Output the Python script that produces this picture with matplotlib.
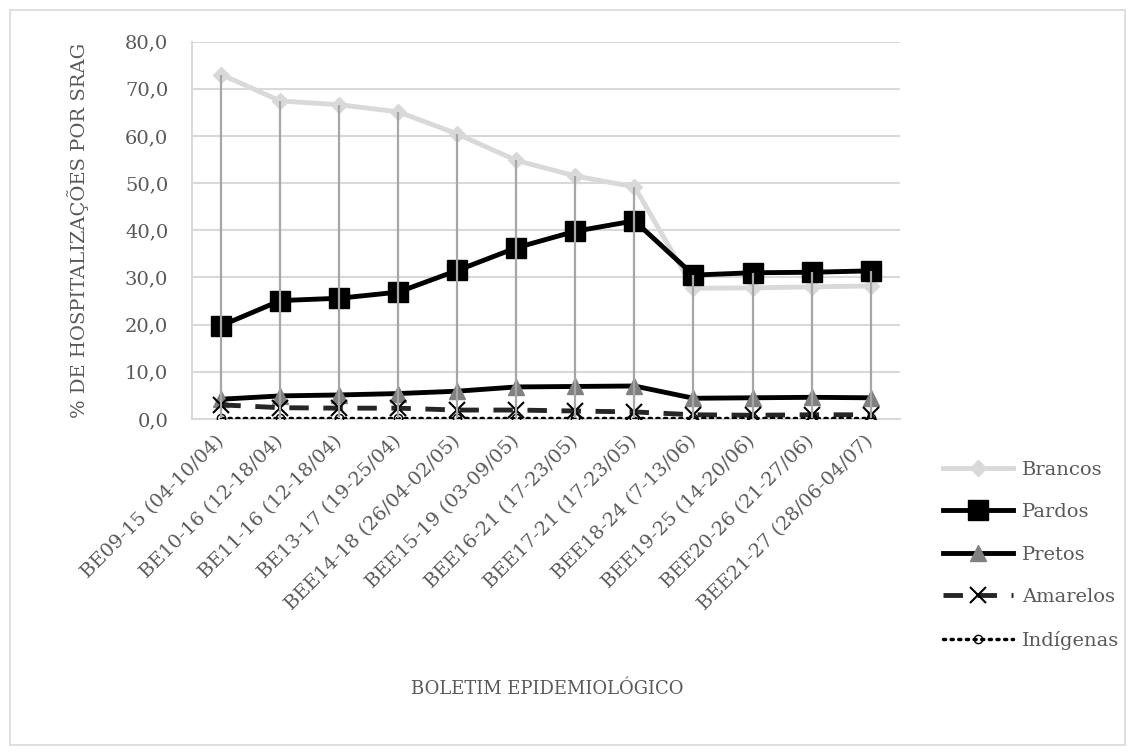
import matplotlib.pyplot as plt
import numpy as np
from matplotlib.patches import Rectangle

categorias = ["BE09-15 (04-10/04)", "BE10-16 (12-18/04)", "BE11-16 (12-18/04)",
              "BE13-17 (19-25/04)", "BEE14-18 (26/04-02/05)", "BEE15-19 (03-09/05)",
              "BEE16-21 (17-23/05)", "BEE17-21 (17-23/05)", "BEE18-24 (7-13/06)",
              "BEE19-25 (14-20/06)", "BEE20-26 (21-27/06)", "BEE21-27 (28/06-04/07)"]

brancos = [73.0, 67.4, 66.6, 65.1, 60.4, 54.8, 51.5, 49.2, 27.7, 27.8, 28.0, 28.2]
pardos = [19.8, 25.1, 25.6, 26.9, 31.5, 36.3, 39.8, 42.0, 30.5, 31.0, 31.1, 31.4]
pretos = [4.2, 4.9, 5.1, 5.4, 5.9, 6.8, 6.9, 7.0, 4.4, 4.5, 4.6, 4.5]
amarelos = [3.0, 2.4, 2.3, 2.3, 1.9, 1.9, 1.7, 1.5, 0.9, 0.8, 0.9, 0.9]
indigenas = [0.3, 0.3, 0.3, 0.3, 0.3, 0.3, 0.3, 0.3, 0.3, 0.3, 0.3, 0.3]

texto = "#595959"
plt.rcParams['font.family'] = ['DejaVu Serif']

fig = plt.figure(figsize=(11.35, 7.55), dpi=100)
fig.patches.append(Rectangle((0.009, 0.013), 0.982, 0.974, transform=fig.transFigure,
                             fill=False, edgecolor="#D9D9D9", linewidth=1.2))
ax = fig.add_axes([0.169, 0.445, 0.624, 0.5])

x = np.arange(len(categorias))
series = np.array([brancos, pardos, pretos, amarelos, indigenas])

# linhas de máximo/mínimo
ax.vlines(x, series.min(axis=0), series.max(axis=0), color="#A6A6A6", lw=1.6, zorder=6)

ax.plot(x, brancos, color="#D9D9D9", lw=3.5, marker="D", ms=8, label="Brancos", zorder=3)
ax.plot(x, pardos, color="black", lw=3.5, marker="s", ms=14, label="Pardos", zorder=4)
ax.plot(x, pretos, color="black", lw=3.5, marker="^", ms=12, mfc="#808080", mec="#808080",
        label="Pretos", zorder=4)
ax.plot(x, amarelos, color="#262626", lw=3.5, ls=(0, (4, 3)), marker="x", ms=11, mew=1.5,
        mec="black", label="Amarelos", zorder=5)
ax.plot(x, indigenas, color="black", lw=2.5, ls=(0, (0.6, 1.6)), dash_capstyle="round",
        marker="o", ms=6, mfc="none", mec="black", mew=1, label="Indígenas", zorder=5)

ax.set_xlim(-0.5, len(categorias) - 0.5)
ax.set_ylim(0, 80)
ax.set_yticks(np.arange(0, 81, 10))
ax.set_yticklabels([f"{v:.1f}".replace(".", ",") for v in np.arange(0, 81, 10)],
                   fontsize=14, color=texto)
ax.set_xticks(x)
ax.set_xticklabels(categorias, rotation=45, ha="right", va="center",
                   rotation_mode="anchor", fontsize=14, color=texto)
ax.tick_params(axis="both", length=0)
ax.tick_params(axis="x", pad=14)
ax.tick_params(axis="y", pad=17)
ax.grid(axis="y", color="#D9D9D9", lw=1.5)
ax.set_axisbelow(True)
for s in ["top", "right"]:
    ax.spines[s].set_visible(False)
for s in ["left", "bottom"]:
    ax.spines[s].set_color("#D9D9D9")
    ax.spines[s].set_linewidth(1.5)

ax.set_ylabel("% DE HOSPITALIZAÇÕES POR SRAG", fontsize=14, color=texto, labelpad=26)
fig.text(0.482, 0.087, "BOLETIM EPIDEMIOLÓGICO", fontsize=13, color=texto,
         ha="center", va="center")

leg = fig.legend(loc="upper left", bbox_to_anchor=(0.815, 0.413), frameon=False,
                 fontsize=14, labelcolor=texto, handlelength=3.6, labelspacing=1.26,
                 handletextpad=0.5)

fig.savefig("out.png", dpi=100)
